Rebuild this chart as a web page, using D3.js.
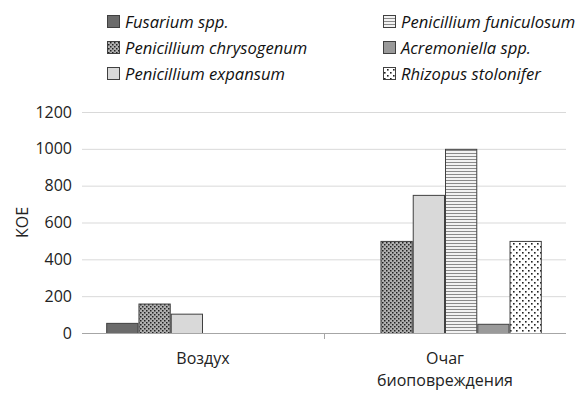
<!DOCTYPE html>
<html><head><meta charset="utf-8">
<script src="https://cdn.jsdelivr.net/npm/d3@7"></script>
<style>
body{margin:0;background:#fff;}
svg{display:block;font-family:"Open Sans",sans-serif;}
</style></head>
<body><svg id="c" width="577" height="396"></svg>
<script>
const categories = [["Воздух"], ["Очаг", "биоповреждения"]];
const seriesNames = ["Fusarium spp.", "Penicillium chrysogenum", "Penicillium expansum",
  "Penicillium funiculosum", "Acremoniella spp.", "Rhizopus stolonifer"];
const fusarium = [55, 0];
const chrysogenum = [160, 500];
const expansum = [105, 750];
const funiculosum = [0, 1000];
const acremoniella = [0, 50];
const rhizopus = [0, 500];
const yTicks = [0, 200, 400, 600, 800, 1000, 1200];
const yLabel = "КОЕ";

const values = [fusarium, chrysogenum, expansum, funiculosum, acremoniella, rhizopus];
const fills = ["#6b6b6b", "url(#pChrys)", "#d9d9d9", "url(#pFun)", "#9a9a9a", "url(#pRhiz)"];

const svg = d3.select("#c");
const defs = svg.append("defs");
let p = defs.append("pattern").attr("id","pChrys").attr("patternUnits","userSpaceOnUse").attr("width",4).attr("height",4);
p.append("rect").attr("width",4).attr("height",4).attr("fill","#b0b0b0");
p.append("rect").attr("x",0).attr("y",0).attr("width",1.5).attr("height",1.5).attr("fill","#222");
p.append("rect").attr("x",2).attr("y",2).attr("width",1.5).attr("height",1.5).attr("fill","#222");
p = defs.append("pattern").attr("id","pFun").attr("patternUnits","userSpaceOnUse").attr("width",4).attr("height",3);
p.append("rect").attr("width",4).attr("height",3).attr("fill","#f2f2f2");
p.append("rect").attr("y",0).attr("width",4).attr("height",1).attr("fill","#8a8a8a");
p = defs.append("pattern").attr("id","pRhiz").attr("patternUnits","userSpaceOnUse").attr("width",6).attr("height",6);
p.append("rect").attr("width",6).attr("height",6).attr("fill","#fff");
p.append("rect").attr("x",0).attr("y",0).attr("width",1.6).attr("height",1.6).attr("fill","#222");
p.append("rect").attr("x",3).attr("y",3).attr("width",1.6).attr("height",1.6).attr("fill","#222");

const mLeft = 82, mRight = 566, mTop = 112, mBottom = 333;
const x0 = d3.scaleBand().domain(d3.range(categories.length)).range([mLeft, mRight]).padding(0);
const bw = x0.bandwidth();
const w = bw / 7.5;
const x1 = d3.scaleBand().domain(d3.range(seriesNames.length)).range([0.75*w, bw - 0.75*w]).padding(0);
const y = d3.scaleLinear().domain([0, 1200]).range([mBottom, mTop]);

svg.append("g").selectAll("line").data(yTicks.filter(t=>t>0)).join("line")
  .attr("x1", mLeft).attr("x2", mRight).attr("y1", d=>y(d)+0.5).attr("y2", d=>y(d)+0.5)
  .attr("stroke", "#d9d9d9").attr("stroke-width", 1);

const yAxis = d3.axisLeft(y).tickValues(yTicks).tickSize(0).tickPadding(10).tickFormat(d3.format("d"));
const ya = svg.append("g").attr("transform", `translate(${mLeft},0)`).call(yAxis);
ya.select(".domain").remove();
ya.selectAll("text").attr("font-size", 16).attr("fill", "#222").attr("font-family", "Open Sans");

const g = svg.append("g");
categories.forEach((c, ci) => {
  values.forEach((vals, si) => {
    if (vals[ci] <= 0) return;
    g.append("rect")
      .attr("x", x0(ci) + x1(si) + 0.5)
      .attr("y", y(vals[ci]) + 0.5)
      .attr("width", x1.bandwidth() - 1)
      .attr("height", y(0) - y(vals[ci]))
      .attr("fill", fills[si]).attr("stroke", "#404040").attr("stroke-width", 1);
  });
});

svg.append("line").attr("x1", mLeft).attr("x2", mRight).attr("y1", mBottom + 0.5).attr("y2", mBottom + 0.5).attr("stroke", "#a6a6a6");
svg.append("g").selectAll("line").data(d3.range(1, categories.length)).join("line")
  .attr("x1", d=>x0(d)+0.5).attr("x2", d=>x0(d)+0.5).attr("y1", mBottom).attr("y2", mBottom + 6)
  .attr("stroke", "#a6a6a6");
svg.append("g").selectAll("text").data(categories).join("text")
  .attr("x", (d,i)=>x0(i) + bw/2).attr("y", 364)
  .attr("text-anchor", "middle").attr("font-size", 16).attr("fill", "#222")
  .each(function(d){
    const t = d3.select(this);
    d.forEach((line, li) => t.append("tspan").attr("x", t.attr("x")).attr("dy", li ? 22 : 0).text(line));
  });

svg.append("text").attr("transform", `translate(28,${(mTop+mBottom)/2}) rotate(-90)`)
  .attr("text-anchor", "middle").attr("font-size", 16).attr("fill", "#222").text(yLabel);

const legCols = [107, 383];
const legRows = [22, 48, 74];
const lg = svg.append("g");
seriesNames.forEach((name, i) => {
  const col = Math.floor(i / 3), row = i % 3;
  const lx = legCols[col], ly = legRows[row];
  lg.append("rect").attr("x", lx + 0.5).attr("y", ly - 6.5).attr("width", 12).attr("height", 12)
    .attr("fill", fills[i]).attr("stroke", "#404040").attr("stroke-width", 1);
  lg.append("text").attr("x", lx + 18).attr("y", ly + 6).attr("font-size", 16.6)
    .attr("font-style", "italic").attr("fill", "#111").text(name);
});
</script></body></html>
